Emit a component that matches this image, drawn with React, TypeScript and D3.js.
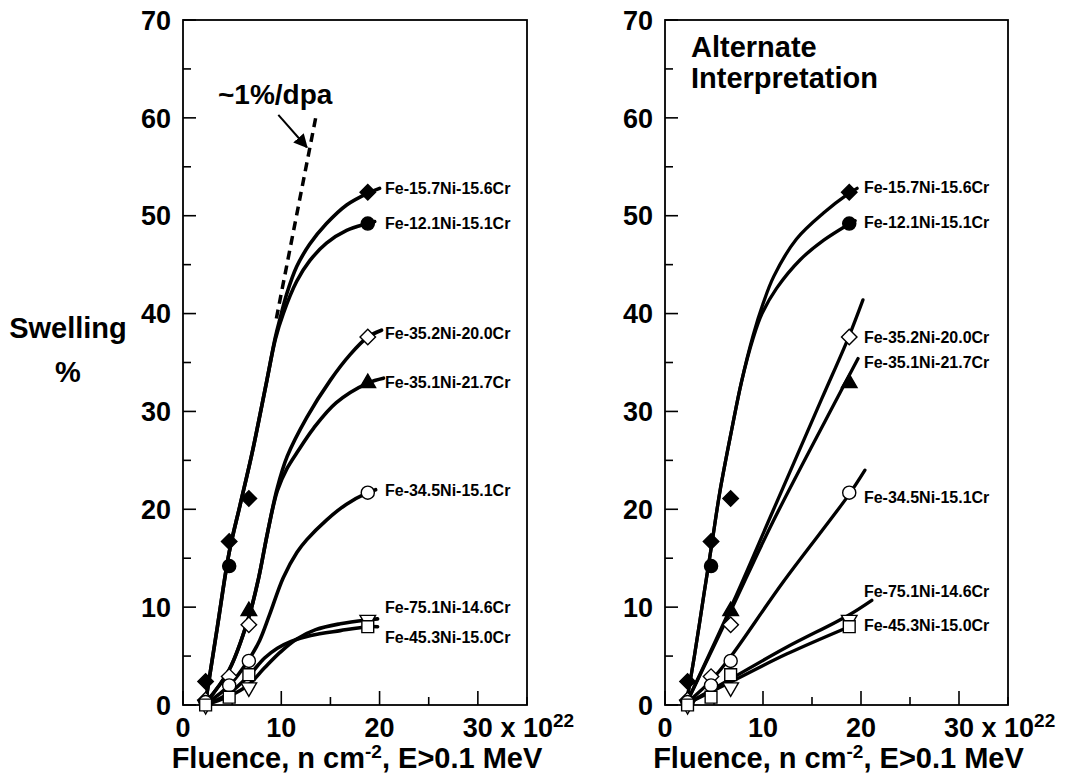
import React, { useEffect, useRef } from "react";
import * as d3 from "d3";

// fluence (x 10^22 n/cm2) where swelling was measured
const fluence = [2.3, 4.7, 6.7, 18.8];

const alloys = [
  "Fe-15.7Ni-15.6Cr",
  "Fe-12.1Ni-15.1Cr",
  "Fe-35.2Ni-20.0Cr",
  "Fe-35.1Ni-21.7Cr",
  "Fe-34.5Ni-15.1Cr",
  "Fe-75.1Ni-14.6Cr",
  "Fe-45.3Ni-15.0Cr",
];
const symbols = ["diamond", "circle", "diamond", "triangle", "circle", "triangleDown", "square"];
const filled = [true, true, false, true, false, false, false];

// swelling % at each fluence (null = not visible)
const swell157 = [2.4, 16.7, 21.1, 52.4];
const swell121 = [null, 14.2, null, 49.2];
const swell352 = [0.5, 2.9, 8.2, 37.6];
const swell351 = [null, null, 9.6, 32.9];
const swell345 = [0.3, 2.0, 4.5, 21.7];
const swell751 = [0.0, null, 1.8, 8.7];
const swell453 = [0.0, 0.8, 3.1, 8.0];
const swelling = [swell157, swell121, swell352, swell351, swell345, swell751, swell453];

// hand-drawn trend curves, left panel
const leftCurve157 = [[2.3, 0.3], [3.5, 8.0], [4.7, 15.6], [5.8, 20.4], [7.0, 25.6], [8.5, 33.0], [9.4, 37.6], [9.9, 39.6], [10.55, 42.0], [11.57, 44.8], [12.9, 47.1], [14.6, 49.2], [16.65, 51.1], [18.8, 52.3], [20.0, 52.8]];
const leftCurve121 = [[2.3, 0.3], [3.5, 8.0], [4.7, 15.6], [5.8, 20.4], [7.0, 25.6], [8.5, 33.0], [9.4, 37.4], [10.2, 40.0], [11.57, 43.3], [12.9, 45.4], [14.6, 47.2], [16.65, 48.5], [18.8, 49.2], [19.5, 49.4]];
const leftCurve352 = [[2.3, 0.2], [4.7, 3.6], [6.7, 9.0], [7.7, 13.0], [8.6, 17.6], [9.6, 22.2], [10.6, 25.4], [12.6, 29.4], [15.0, 33.2], [17.0, 35.8], [18.8, 37.6], [20.2, 38.3]];
const leftCurve351 = [[2.3, 0.2], [4.7, 3.6], [6.7, 9.0], [7.7, 13.0], [8.6, 17.6], [9.6, 21.9], [10.6, 24.2], [11.6, 25.8], [13.3, 28.3], [15.6, 30.9], [18.8, 32.9], [20.4, 33.4]];
const leftCurve345 = [[2.3, 0.1], [4.7, 2.0], [6.6, 4.5], [7.8, 6.6], [8.8, 9.2], [10.2, 13.0], [11.6, 15.6], [12.6, 16.9], [14.6, 18.9], [16.6, 20.5], [18.8, 21.7], [19.6, 22.0]];
const leftCurve751 = [[2.3, 0.0], [4.7, 0.9], [6.6, 2.0], [8.3, 3.8], [9.9, 5.4], [11.5, 6.7], [13.5, 7.7], [16.0, 8.3], [18.8, 8.7], [19.8, 8.8]];
const leftCurve453 = [[2.3, 0.0], [4.7, 1.2], [6.7, 3.0], [8.3, 4.8], [9.6, 5.8], [11.0, 6.5], [13.0, 7.1], [16.0, 7.6], [18.8, 8.0], [19.8, 8.0]];
const leftCurves = [leftCurve157, leftCurve121, leftCurve352, leftCurve351, leftCurve345, leftCurve751, leftCurve453];

// right panel: alternate interpretation (near-linear for the high-Ni alloys)
const rightCurve157 = [[2.2, 0.3], [3.0, 5.0], [4.0, 11.5], [4.8, 16.6], [5.6, 21.8], [6.8, 28.1], [7.8, 33.0], [9.0, 37.8], [10.0, 41.0], [11.1, 43.8], [13.4, 47.6], [16.2, 50.3], [18.8, 52.3], [19.6, 52.8]];
const rightCurve121 = [[2.2, 0.3], [3.0, 5.0], [4.0, 11.5], [4.8, 16.6], [5.6, 21.8], [6.8, 28.1], [7.8, 33.0], [9.0, 37.5], [9.9, 40.0], [11.4, 42.6], [13.8, 45.5], [16.2, 47.5], [18.7, 49.1], [19.4, 49.5]];
const rightCurve352 = [[2.2, 0.2], [7.0, 10.6], [11.0, 19.8], [16.0, 31.3], [18.7, 37.5], [20.2, 41.4]];
const rightCurve351 = [[2.2, 0.2], [6.7, 9.6], [11.0, 18.7], [17.7, 31.6], [19.7, 35.4]];
const rightCurve345 = [[2.2, 0.2], [4.7, 2.5], [6.6, 4.8], [12.0, 12.5], [18.7, 21.4], [20.4, 24.0]];
const rightCurve751 = [[2.2, 0.1], [6.6, 2.6], [12.4, 5.9], [18.6, 9.1], [21.1, 10.7]];
const rightCurve453 = [[2.2, 0.1], [6.6, 2.3], [12.4, 5.2], [18.8, 8.0]];
const rightCurves = [rightCurve157, rightCurve121, rightCurve352, rightCurve351, rightCurve345, rightCurve751, rightCurve453];

// label anchor (swelling value) for each alloy name
const leftLabelY = [52.8, 49.2, 38.0, 33.0, 21.9, 10.0, 6.9];
const rightLabelY = [52.9, 49.3, 37.6, 35.0, 21.2, 11.6, 8.1];

// ~1%/dpa guide line and its arrow
const dpaLine = [[9.5, 39.5], [13.5, 60.0]];
const dpaArrow = [[9.7, 60.3], [12.6, 57.0]];

const yTicks = d3.range(0, 71, 5);
const xTicks = d3.range(0, 36, 5);

const FONT = "'Liberation Sans', Arial, Helvetica, sans-serif";

function drawPanel(svg, opts) {
  const { left, right, curves, labelY, labelX, lineWidth, isLeft } = opts;
  const x = d3.scaleLinear().domain([0, 35]).range([left, right]);
  const y = d3.scaleLinear().domain([0, 70]).range([705, 20]);
  const g = svg.append("g");

  g.append("rect")
    .attr("x", x(0))
    .attr("y", y(70))
    .attr("width", x(35) - x(0))
    .attr("height", y(0) - y(70))
    .attr("fill", "none")
    .attr("stroke", "#000")
    .attr("stroke-width", 1.8);

  // inward ticks
  g.selectAll(".yt")
    .data(yTicks)
    .enter()
    .append("line")
    .attr("x1", x(0))
    .attr("x2", (d) => x(0) + (d % 10 === 0 ? 13 : 8))
    .attr("y1", (d) => y(d))
    .attr("y2", (d) => y(d))
    .attr("stroke", "#000")
    .attr("stroke-width", 1.6);

  g.selectAll(".xt")
    .data(xTicks)
    .enter()
    .append("line")
    .attr("x1", (d) => x(d))
    .attr("x2", (d) => x(d))
    .attr("y1", y(0))
    .attr("y2", (d) => y(0) - (d % 10 === 0 ? 14 : 8))
    .attr("stroke", "#000")
    .attr("stroke-width", 1.6);

  g.selectAll(".yl")
    .data(yTicks.filter((d) => d % 10 === 0))
    .enter()
    .append("text")
    .attr("x", x(0) - 12)
    .attr("y", (d) => y(d))
    .attr("dy", "0.36em")
    .attr("text-anchor", "end")
    .attr("font-family", FONT)
    .attr("font-weight", "bold")
    .attr("font-size", 27)
    .text((d) => d);

  g.selectAll(".xl")
    .data([0, 10, 20])
    .enter()
    .append("text")
    .attr("x", (d) => x(d))
    .attr("y", 737)
    .attr("text-anchor", "middle")
    .attr("font-family", FONT)
    .attr("font-weight", "bold")
    .attr("font-size", 27)
    .text((d) => d);

  const t30 = g
    .append("text")
    .attr("x", x(30) - 15)
    .attr("y", 737)
    .attr("font-family", FONT)
    .attr("font-weight", "bold")
    .attr("font-size", 27);
  t30.append("tspan").text("30 x 10");
  t30.append("tspan").attr("dy", -10).attr("font-size", 19).text("22");

  const title = g
    .append("text")
    .attr("x", (x(0) + x(35)) / 2 + 2)
    .attr("y", 768)
    .attr("text-anchor", "middle")
    .attr("font-family", FONT)
    .attr("font-weight", "bold")
    .attr("font-size", 29);
  title.append("tspan").text("Fluence, n cm");
  title.append("tspan").attr("dy", -10).attr("font-size", 19).text("-2");
  title.append("tspan").attr("dy", 10).text(", E>0.1 MeV");

  const line = d3
    .line()
    .x((d) => x(d[0]))
    .y((d) => y(d[1]))
    .curve(d3.curveCatmullRom.alpha(0.5));

  g.selectAll(".curve")
    .data(curves)
    .enter()
    .append("path")
    .attr("d", (d) => line(d))
    .attr("fill", "none")
    .attr("stroke", "#000")
    .attr("stroke-width", lineWidth)
    .attr("stroke-linecap", "round")
    .attr("stroke-linejoin", "round");

  // markers
  const points = [];
  swelling.forEach((vals, i) => {
    vals.forEach((v, j) => {
      if (v !== null) points.push({ s: symbols[i], f: filled[i], x: fluence[j], y: v });
    });
  });
  const sym = d3.symbol();
  g.selectAll(".pt")
    .data(points)
    .enter()
    .append("path")
    .attr("d", (d) => {
      if (d.s === "circle") return sym.type(d3.symbolCircle).size(135)();
      if (d.s === "square") return sym.type(d3.symbolSquare).size(140)();
      if (d.s === "diamond") return sym.type(d3.symbolSquare).size(120)();
      return sym.type(d3.symbolTriangle).size(105)();
    })
    .attr("transform", (d) => {
      const rot = d.s === "diamond" ? 45 : d.s === "triangleDown" ? 180 : 0;
      return "translate(" + x(d.x) + "," + y(d.y) + ") rotate(" + rot + ")";
    })
    .attr("fill", (d) => (d.f ? "#000" : "#fff"))
    .attr("stroke", "#000")
    .attr("stroke-width", 1.4);

  g.selectAll(".lab")
    .data(alloys)
    .enter()
    .append("text")
    .attr("x", x(labelX))
    .attr("y", (d, i) => y(labelY[i]))
    .attr("dy", "0.36em")
    .attr("font-family", FONT)
    .attr("font-weight", "bold")
    .attr("font-size", 16)
    .text((d) => d);

  if (isLeft) {
    g.append("path")
      .attr("d", d3.line().x((d) => x(d[0])).y((d) => y(d[1]))(dpaLine))
      .attr("stroke", "#000")
      .attr("stroke-width", 3.5)
      .attr("stroke-dasharray", "9,6")
      .attr("fill", "none");

    g.append("path")
      .attr("d", d3.line().x((d) => x(d[0])).y((d) => y(d[1]))(dpaArrow))
      .attr("stroke", "#000")
      .attr("stroke-width", 2)
      .attr("marker-end", "url(#arrowHead)")
      .attr("fill", "none");

    g.append("text")
      .attr("x", 218)
      .attr("y", 104)
      .attr("font-family", FONT)
      .attr("font-weight", "bold")
      .attr("font-size", 28)
      .text("~1%/dpa");
  } else {
    const alt = g
      .append("text")
      .attr("font-family", FONT)
      .attr("font-weight", "bold")
      .attr("font-size", 29);
    alt.append("tspan").attr("x", 691).attr("y", 57).text("Alternate");
    alt.append("tspan").attr("x", 691).attr("y", 88).text("Interpretation");
  }
}

export default function App() {
  const ref = useRef(null);

  useEffect(() => {
    const svg = d3.select(ref.current);
    svg.selectAll("*").remove();

    svg
      .append("defs")
      .append("marker")
      .attr("id", "arrowHead")
      .attr("viewBox", "0 0 10 10")
      .attr("refX", 9)
      .attr("refY", 5)
      .attr("markerWidth", 7)
      .attr("markerHeight", 7)
      .attr("markerUnits", "strokeWidth")
      .attr("orient", "auto")
      .append("path")
      .attr("d", "M0,0L10,5L0,10Z")
      .attr("fill", "#000");

    drawPanel(svg, {
      left: 183,
      right: 527,
      curves: leftCurves,
      labelY: leftLabelY,
      labelX: 20.55,
      lineWidth: 3.6,
      isLeft: true,
    });
    drawPanel(svg, {
      left: 665,
      right: 1008,
      curves: rightCurves,
      labelY: rightLabelY,
      labelX: 20.3,
      lineWidth: 3.3,
      isLeft: false,
    });

    const sw = svg
      .append("text")
      .attr("text-anchor", "middle")
      .attr("font-family", FONT)
      .attr("font-weight", "bold")
      .attr("font-size", 29);
    sw.append("tspan").attr("x", 68).attr("y", 338).text("Swelling");
    sw.append("tspan").attr("x", 68).attr("y", 382).text("%");
  }, []);

  return (
    <svg
      ref={ref}
      width={1072}
      height={777}
      style={{ position: "absolute", left: 0, top: 0, background: "#fff" }}
    />
  );
}
